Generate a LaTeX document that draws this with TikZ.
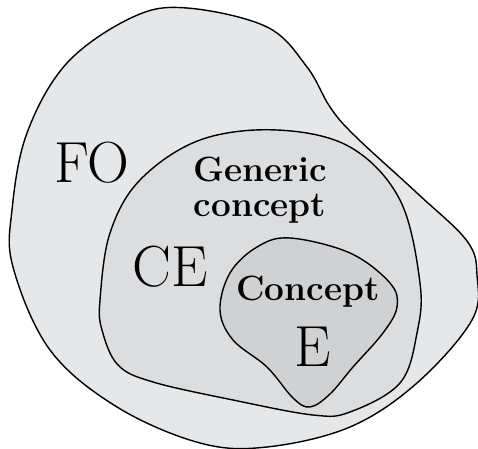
\documentclass[tikz,border=0pt]{standalone}
\usepackage{tikz}
\definecolor{outergray}{RGB}{230,231,232}
\definecolor{midgray}{RGB}{220,221,223}
\definecolor{innergray}{RGB}{208,209,211}
\tikzstyle{region} = [draw = black, line width = 0.8pt]
\tikzstyle{biglabel} = [font = \fontsize{33}{36}\selectfont, inner sep = 0pt]
\tikzstyle{smalllabel} = [font = \fontsize{20}{20}\selectfont\bfseries, inner sep = 0pt, align = center]

\begin{document}
\begin{tikzpicture}[x = 0.02cm, y = -0.02cm]
\useasboundingbox (0,0) rectangle (478,449);

% FO
\draw [region, fill = outergray] plot [smooth cycle, tension = 0.6] coordinates {
 (187,8) (267,27) (307,67) (330,107) (355,136) (417,193) (467,241) (477,275)
 (472,320) (417,383) (350,427) (267,447) (200,443) (117,407) (50,350)
 (13,267) (12,210) (27,133) (67,63) (133,17)};

% CE
\draw [region, fill = midgray] plot [smooth cycle, tension = 0.6] coordinates {
 (277,130) (350,147) (400,200) (420,283) (417,333) (400,383) (350,412)
 (313,415) (233,400) (153,382) (118,365) (102,330) (100,300) (110,233) (140,180) (200,140)};

% E
\draw [region, fill = innergray] plot [smooth cycle, tension = 0.6] coordinates {
 (290,238) (350,253) (390,283) (397,307) (383,333) (353,367) (330,394)
 (310,407) (293,398) (267,367) (233,340) (220,310) (230,273) (257,247)};

\node(fo) [biglabel] at (92,163) {FO};
\node(ce) [biglabel] at (170,267) {CE};
\node(e) [biglabel] at (313,347) {E};
\node(generic) [smalllabel] at (260,190) {Generic\\concept};
\node(concept) [smalllabel] at (308,292) {Concept};

\end{tikzpicture}
\end{document}
